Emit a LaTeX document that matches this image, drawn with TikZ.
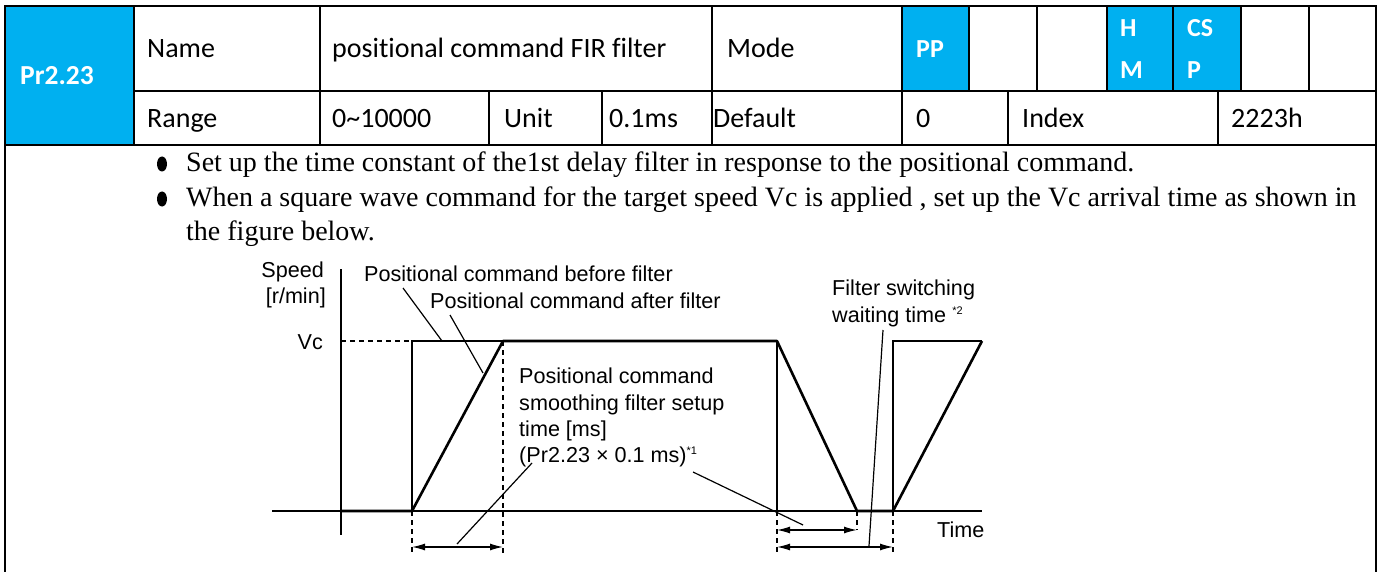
\documentclass[tikz,border=0pt]{standalone}
\usepackage{fontspec}
\setmainfont{Liberation Serif}
\newfontfamily\tabfont[Ligatures=NoCommon]{Carlito}
\newfontfamily\chartfont{Liberation Sans}
\usetikzlibrary{arrows.meta}
\definecolor{cellblue}{HTML}{00B0F0}
\begin{document}
\begin{tikzpicture}[x=1pt,y=-1pt,
  grid/.style={line width=2pt,black},
  tabtxt/.style={anchor=base west,inner sep=0pt,font=\tabfont\fontsize{28}{33}\selectfont},
  tabbold/.style={anchor=base west,inner sep=0pt,text=white,font=\tabfont\bfseries\fontsize{26}{31}\selectfont},
  bodytxt/.style={anchor=base west,inner sep=0pt,font=\fontsize{28}{32}\selectfont},
  ctxt/.style={inner sep=0pt,font=\chartfont\fontsize{21.6}{25}\selectfont},
  supx/.style={font=\chartfont\fontsize{11}{12}\selectfont},
  thin/.style={line width=1.3pt},
  thick/.style={line width=2.6pt},
  dsh/.style={line width=1.3pt,dash pattern=on 5pt off 4pt},
  lead/.style={line width=1.2pt},
  dim/.style={line width=1.3pt,{Latex[length=13pt,width=7pt]}-{Latex[length=13pt,width=7pt]}},
]
\useasboundingbox (0,0) rectangle (1383,572);
\fill[white] (0,0) rectangle (1383,572);
% blue cells
\fill[cellblue] (5,6) rectangle (134,145);
\fill[cellblue] (902,6) rectangle (969,91);
\fill[cellblue] (1107,6) rectangle (1241,91);
% grid
\draw[grid] (5,572) -- (5,6) -- (1376,6) -- (1376,572);
\draw[grid] (134,91) -- (1376,91);
\draw[grid] (5,145) -- (1376,145);
\foreach \x in {134,320,712,902} \draw[grid] (\x,6) -- (\x,145);
\foreach \x in {969,1037,1107,1173,1241,1309} \draw[grid] (\x,6) -- (\x,91);
\foreach \x in {489,602,1008,1218} \draw[grid] (\x,91) -- (\x,145);
% table texts
\node[tabbold,font=\tabfont\bfseries\fontsize{27.5}{33}\selectfont] (pr) at (20,85) {Pr2.23};
\node[tabtxt] (name) at (147,58) {Name};
\node[tabtxt] (nameval) at (332,58) {positional command FIR filter};
\node[tabtxt] (mode) at (727,58) {Mode};
\node[tabbold] (pp) at (916,58) {PP};
\node[tabbold] (h) at (1120,37) {H};
\node[tabbold] (m) at (1120,79) {M};
\node[tabbold] (cs) at (1187,37) {CS};
\node[tabbold] (p) at (1187,79) {P};
\node[tabtxt] (range) at (147,128) {Range};
\node[tabtxt] (rangeval) at (332,128) {0\char"7E 10000};
\node[tabtxt] (unit) at (504,128) {Unit};
\node[tabtxt] (unitval) at (609,128) {0.1ms};
\node[tabtxt] (def) at (713,128) {Default};
\node[tabtxt] (defval) at (916,128) {0};
\node[tabtxt] (idx) at (1022,128) {Index};
\node[tabtxt] (idxval) at (1231,128) {2223h};
% bullets
\fill (162,164) ellipse (5pt and 7.5pt);
\fill (162,199) ellipse (5pt and 7.5pt);
\node[bodytxt] (b1) at (186,172) {Set up the time constant of the1st delay filter in response to the positional command.};
\node[bodytxt] (b2) at (186,207) {When a square wave command for the target speed Vc is applied , set up the Vc arrival time as shown in};
\node[bodytxt] (b3) at (186,240) {the figure below.};
% chart axes
\coordinate (yaxT) at (341,269);
\coordinate (yaxB) at (341,535);
\coordinate (xaxL) at (272,511);
\coordinate (xaxR) at (982,511);
\draw[thin] (yaxT) -- (yaxB);
\draw[thin] (xaxL) -- (xaxR);
% command before filter (thin)
\coordinate (c0) at (341,511);
\coordinate (c1) at (412,511);
\coordinate (c2) at (412,341);
\coordinate (c3) at (777,341);
\coordinate (c4) at (777,511);
\coordinate (c5) at (893,511);
\coordinate (c6) at (893,341);
\coordinate (c7) at (982,341);
\draw[thin] (c0) -- (c1) -- (c2) -- (c3) -- (c4);
\draw[thin] (c5) -- (c6) -- (c7);
% command after filter (thick)
\coordinate (a1) at (503,341);
\coordinate (a2) at (857,511);
\draw[thick,line join=round] (c0) -- (c1) -- (a1) -- (c3) -- (a2) -- (c5) -- (c7);
% Vc dashed
\coordinate (vcL) at (341,341);
\draw[dsh] (vcL) -- (c2);
% dashed verticals
\coordinate (d1) at (412,553);
\coordinate (d2) at (503,553);
\coordinate (d3) at (777,553);
\coordinate (d4) at (857,530);
\coordinate (d5) at (893,553);
\draw[dsh] (c1) -- (d1);
\draw[dsh] (a1) -- (d2);
\draw[dsh] (c4) -- (d3);
\draw[dsh] (a2) -- (d4);
\draw[dsh] (c5) -- (d5);
% dimension arrows
\coordinate (e1L) at (412,547);
\coordinate (e1R) at (503,547);
\coordinate (e2L) at (777,530);
\coordinate (e2R) at (857,530);
\coordinate (e3L) at (777,547);
\coordinate (e3R) at (893,547);
\draw[dim] (e1L) -- (e1R);
\draw[dim] (e2L) -- (e2R);
\draw[dim] (e3L) -- (e3R);
% labels
\node[ctxt,anchor=base east] (speed) at (324,277) {Speed};
\node[ctxt,anchor=base east] (rmin) at (326,303) {[r/min]};
\node[ctxt,anchor=base east] (vc) at (323,349) {Vc};
\node[ctxt,anchor=base west] (before) at (364,281) {Positional command before filter};
\node[ctxt,anchor=base west] (after) at (430,308) {Positional command after filter};
\node[ctxt,anchor=base west] (smooth1) at (519,383) {Positional command};
\node[ctxt,anchor=base west] (smooth2) at (519,410) {smoothing filter setup};
\node[ctxt,anchor=base west] (smooth3) at (519,436) {time [ms]};
\node[ctxt,anchor=base west] (smooth4) at (519,462) {(Pr2.23 \texttimes{} 0.1 ms)\raisebox{8pt}{\fontsize{11}{12}\selectfont *1}};
\node[ctxt,anchor=base west] (fsw1) at (832,295) {Filter switching};
\node[ctxt,anchor=base west] (fsw2) at (832,322) {waiting time \raisebox{8pt}{\fontsize{11}{12}\selectfont *2}};
\node[ctxt,anchor=base west] (time) at (937,537) {Time};
% leader lines
\coordinate (l1a) at (403,288);
\coordinate (l1b) at (442,341);
\coordinate (l2a) at (450,315);
\coordinate (l2b) at (483,373);
\coordinate (l3a) at (532,463);
\coordinate (l3b) at (457,544);
\coordinate (l4a) at (693,472);
\coordinate (l4b) at (803,525);
\coordinate (l5a) at (883,330);
\coordinate (l5b) at (869,546);
\draw[lead] (l1a) -- (l1b);
\draw[lead] (l2a) -- (l2b);
\draw[lead] (l3a) -- (l3b);
\draw[lead] (l4a) -- (l4b);
\draw[lead] (l5a) -- (l5b);
\end{tikzpicture}
\end{document}
